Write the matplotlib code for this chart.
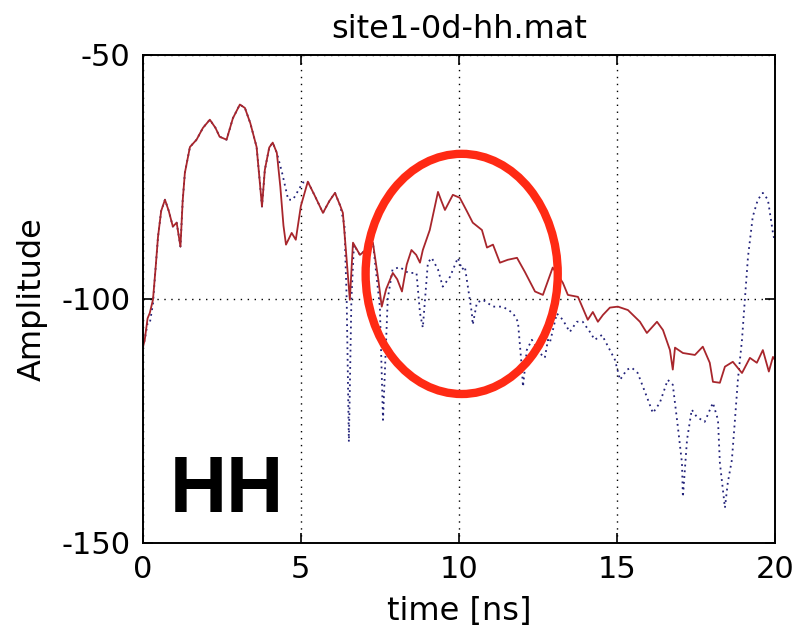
import numpy as np
import matplotlib
matplotlib.use("Agg")
import matplotlib.pyplot as plt
from matplotlib.patches import Ellipse

plt.rcParams['font.family'] = ['DejaVu Sans']
plt.rcParams['axes.unicode_minus'] = False

# measured trace (solid) and reference trace (dotted)
t_meas = [0.0, 0.06, 0.15, 0.22, 0.32, 0.40, 0.48, 0.58, 0.70, 0.82, 0.95, 1.07, 1.19, 1.26,
          1.33, 1.49, 1.70, 1.90, 2.12, 2.30, 2.43, 2.65, 2.85, 3.07, 3.23, 3.40, 3.60, 3.70,
          3.77, 3.86, 4.00, 4.11, 4.24, 4.35, 4.45, 4.53, 4.71, 4.84, 5.00, 5.22, 5.45, 5.70,
          5.90, 6.08, 6.25, 6.33, 6.45, 6.55, 6.65, 6.87, 7.05, 7.28, 7.45, 7.56, 7.70, 7.91,
          8.05, 8.20, 8.35, 8.50, 8.65, 8.77, 8.86, 9.08, 9.34, 9.45, 9.56, 9.81, 10.03, 10.25,
          10.44, 10.73, 10.89, 11.08, 11.30, 11.55, 11.84, 12.09, 12.41, 12.66, 12.97, 13.29,
          13.45, 13.77, 14.08, 14.24, 14.40, 14.56, 14.78, 15.03, 15.35, 15.73, 15.95, 16.27,
          16.46, 16.68, 16.77, 16.84, 17.09, 17.47, 17.72, 17.94, 18.04, 18.26, 18.42, 18.67,
          18.96, 19.21, 19.43, 19.62, 19.81, 19.94, 20.0]
a_meas = [-110, -108.4, -104, -102.9, -100.2, -94, -87.3, -82, -79.7, -82, -85.2, -84.4, -89.3, -80,
          -74.2, -68.9, -67.4, -65, -63.3, -65, -66.8, -67.4, -63, -60.2, -60.9, -64, -68.9, -76,
          -81.1, -73.6, -69, -68.0, -70.1, -77, -85, -88.9, -86.5, -87.9, -81, -76.0, -79, -82.4,
          -80, -78.3, -81, -82.4, -92, -100.2, -88.5, -91, -90, -88.5, -96, -101.6, -98, -94.7,
          -96, -98.5, -93, -90, -91, -92.6, -90, -85.9, -78.1, -80, -81.8, -78.7, -79.3, -82,
          -84.4, -85.9, -89.5, -88.9, -92.6, -92, -91.6, -94.5, -98.5, -99.2, -93.6, -96.7,
          -99.2, -99.6, -104.3, -102.7, -104.7, -103.3, -101.8, -101.6, -102.3, -104.7, -107, -104.7,
          -106.4, -110.5, -114.5, -110, -111.1, -111.5, -109.8, -113.1, -117, -117.2, -113.9, -112.9,
          -115.2, -112.1, -113.1, -110.5, -114.9, -111.9, -112.5]

t_ref = [0.0, 0.06, 0.15, 0.22, 0.32, 0.40, 0.48, 0.58, 0.70, 0.82, 0.95, 1.07, 1.19, 1.26,
         1.33, 1.49, 1.70, 1.90, 2.12, 2.30, 2.43, 2.65, 2.85, 3.07, 3.23, 3.40, 3.60, 3.70,
         3.77, 3.86, 4.00, 4.11, 4.24, 4.40, 4.60, 4.75, 5.06, 5.22, 5.45, 5.70, 5.90, 6.08,
         6.25, 6.38, 6.45, 6.52, 6.60, 6.68, 6.87, 7.05, 7.28, 7.50, 7.60, 7.75, 7.90, 8.13,
         8.40, 8.66, 8.77, 8.86, 9.02, 9.14, 9.34, 9.49, 9.72, 9.97, 10.10, 10.19, 10.41, 10.44,
         10.57, 10.76, 11.08, 11.39, 11.71, 11.87, 11.99, 12.03, 12.15, 12.31, 12.56, 12.72,
         12.82, 12.88, 13.10, 13.29, 13.51, 13.73, 13.92, 14.15, 14.30, 14.53, 14.78, 14.94,
         15.10, 15.32, 15.47, 15.66, 15.95, 16.14, 16.36, 16.61, 16.77, 16.93, 17.06, 17.09,
         17.22, 17.37, 17.53, 17.78, 18.04, 18.20, 18.26, 18.42, 18.51, 18.64, 18.73, 18.83,
         18.96, 19.05, 19.15, 19.30, 19.46, 19.62, 19.78, 19.94, 20.0]
a_ref = [-110, -108.4, -105, -105, -101, -94, -87.3, -82, -79.7, -82, -85.2, -84.4, -89.3, -80,
         -74.2, -68.9, -67.4, -65, -63.3, -65, -66.8, -67.4, -63, -60.2, -60.9, -64, -68.9, -76,
         -81.1, -73.6, -69, -68.0, -70.1, -74, -79.7, -79.7, -76.2, -76.0, -79, -82.4, -80, -78.3,
         -81, -85, -100, -129.3, -100, -89, -91, -90, -88.5, -101.6, -124.8, -100, -94, -93.5,
         -94.7, -94.7, -102.9, -105.9, -92.6, -91.6, -94, -97.5, -95.5, -91.6, -94, -93.4, -102.9, -105.3,
         -100.8, -100.2, -101.6, -101.6, -102.9, -104.7, -113.9, -118, -110.5, -108.4, -111.1, -112.1,
         -108.4, -109, -103, -104.3, -106.8, -104.7, -104.7, -106.8, -108.4, -107.4, -110.5, -112.5,
         -116.6, -114.5, -114.1, -115.2, -120.1, -123.4, -121.3, -116.6, -117.6, -126.2, -133.6, -140.6,
         -128.9, -122.7, -124.2, -125.2, -121.3, -124.8, -133.6, -142.8, -137.7, -133, -125.4, -116.6,
         -108.4, -100.2, -91.4, -83.2, -79.7, -78.3, -79.7, -86.5, -88.3]

x_ticks = [0, 5, 10, 15, 20]
y_ticks = [-150, -100, -50]

fig = plt.figure(figsize=(7.98, 6.44), dpi=100)
ax = fig.add_axes([0.179, 0.157, 0.792, 0.758])

ax.plot(t_ref, a_ref, color='#23237a', linestyle=(0, (1, 2.2)), linewidth=1.3)
ax.plot(t_meas, a_meas, color='#a8262c', linewidth=1.3)

ax.set_xlim(0, 20)
ax.set_ylim(-150, -50)
ax.set_xticks(x_ticks)
ax.set_yticks(y_ticks)
ax.grid(True, color='black', linestyle=(0, (1, 4)), linewidth=1.0)
ax.tick_params(direction='in', length=7, width=1.2, top=True, right=True,
               labelsize=22, pad=9)
for s in ax.spines.values():
    s.set_linewidth(1.4)

ax.set_title('site1-0d-hh.mat', fontsize=23, pad=12)
ax.set_xlabel('time [ns]', fontsize=23, labelpad=8)
ax.set_ylabel('Amplitude', fontsize=23, labelpad=10)

# highlighted region
ax.add_patch(Ellipse((10.09, -94.9), 6.08, 49.2, fill=False,
                     edgecolor='#ff2a14', linewidth=6, zorder=5))

ax.text(0.85, -143.6, 'HH', fontsize=57, fontweight='bold',
        family='Liberation Sans', color='black', zorder=6)

fig.savefig('out.png', dpi=100)
